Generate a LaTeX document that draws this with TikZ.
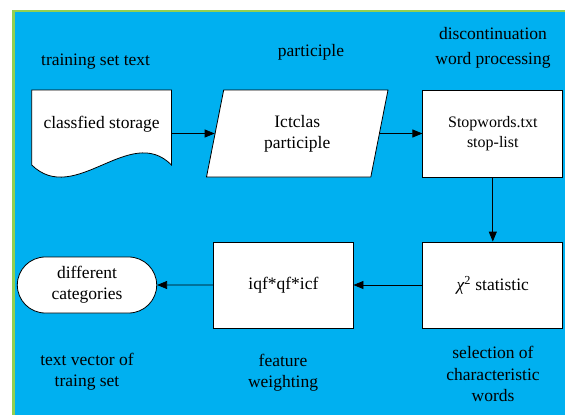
\documentclass[tikz,border=0pt]{standalone}
\usepackage{fontspec}
\setmainfont{Liberation Serif}
\newfontfamily\timesx{Liberation Serif}
\usetikzlibrary{arrows.meta,shapes.geometric,shapes.misc}
\definecolor{bgblue}{HTML}{00B0F0}
\definecolor{bdgreen}{HTML}{92D050}
\tikzset{
  txt/.style={font=\timesx\fontsize{17.5}{21}\selectfont, align=center, inner sep=0pt},
  box/.style={draw=black, fill=white, line width=0.8pt, txt},
  flowarrow/.style={line width=0.8pt, -{Triangle[length=10pt,width=8pt]}},
}
\begin{document}
\begin{tikzpicture}[x=1pt,y=-1pt]
\clip (0,0) rectangle (565,415);
\fill[white] (0,0) rectangle (565,415);
\filldraw[fill=bgblue, draw=bdgreen, line width=2.5pt] (13.5,11) rectangle (600,450);

% document shape
\filldraw[fill=white, draw=black, line width=0.8pt] (31.7,90) -- (171.5,90) -- (171.5,165)
  .. controls (130,123) and (75,207) .. (31.7,165) -- cycle;
\node[txt, minimum width=139.8pt, minimum height=87pt] (doc) at (101.6,133.5) {\raisebox{22pt}{classfied storage}};

\node[box, trapezium, trapezium left angle=65, trapezium right angle=115,
      trapezium stretches body, minimum width=181.5pt, minimum height=87pt] (para) at (297.25,133.5) {Ictclas\\participle};

\node[box, minimum width=140pt, minimum height=87pt, font=\timesx\fontsize{16}{20}\selectfont] (stop) at (492.8,133.5) {Stopwords.txt\\stop-list};

\node[box, minimum width=140pt, minimum height=86pt] (chi) at (492.8,285) {{\itshape χ}\textsuperscript{2} statistic};
\node[box, minimum width=139.3pt, minimum height=86pt] (iqf) at (283.4,285) {iqf*qf*icf};
\node[box, rounded rectangle, minimum width=139.4pt, minimum height=56pt] (cat) at (87,285) {different\\categories};

% labels
\node[txt] (l1) at (95.6,62) {training set text};
\node[txt] (l2) at (311,52) {participle};
\node[txt] (l3) at (493,47.5) {discontinuation\\[4pt]word processing};
\node[txt] (l4) at (87,372) {text vector of\\traing set};
\node[txt] (l5) at (283,372.5) {feature\\weighting};
\node[txt, font=\timesx\fontsize{17.5}{21.5}\selectfont] (l6) at (493,374) {selection of\\characteristic\\words};

% connectors
\draw[flowarrow] (doc) -- (para);
\draw[flowarrow] (para) -- (stop);
\draw[flowarrow] (stop) -- (chi);
\draw[flowarrow] (chi) -- (iqf);
\draw[flowarrow] (iqf) -- (cat);
\end{tikzpicture}
\end{document}
